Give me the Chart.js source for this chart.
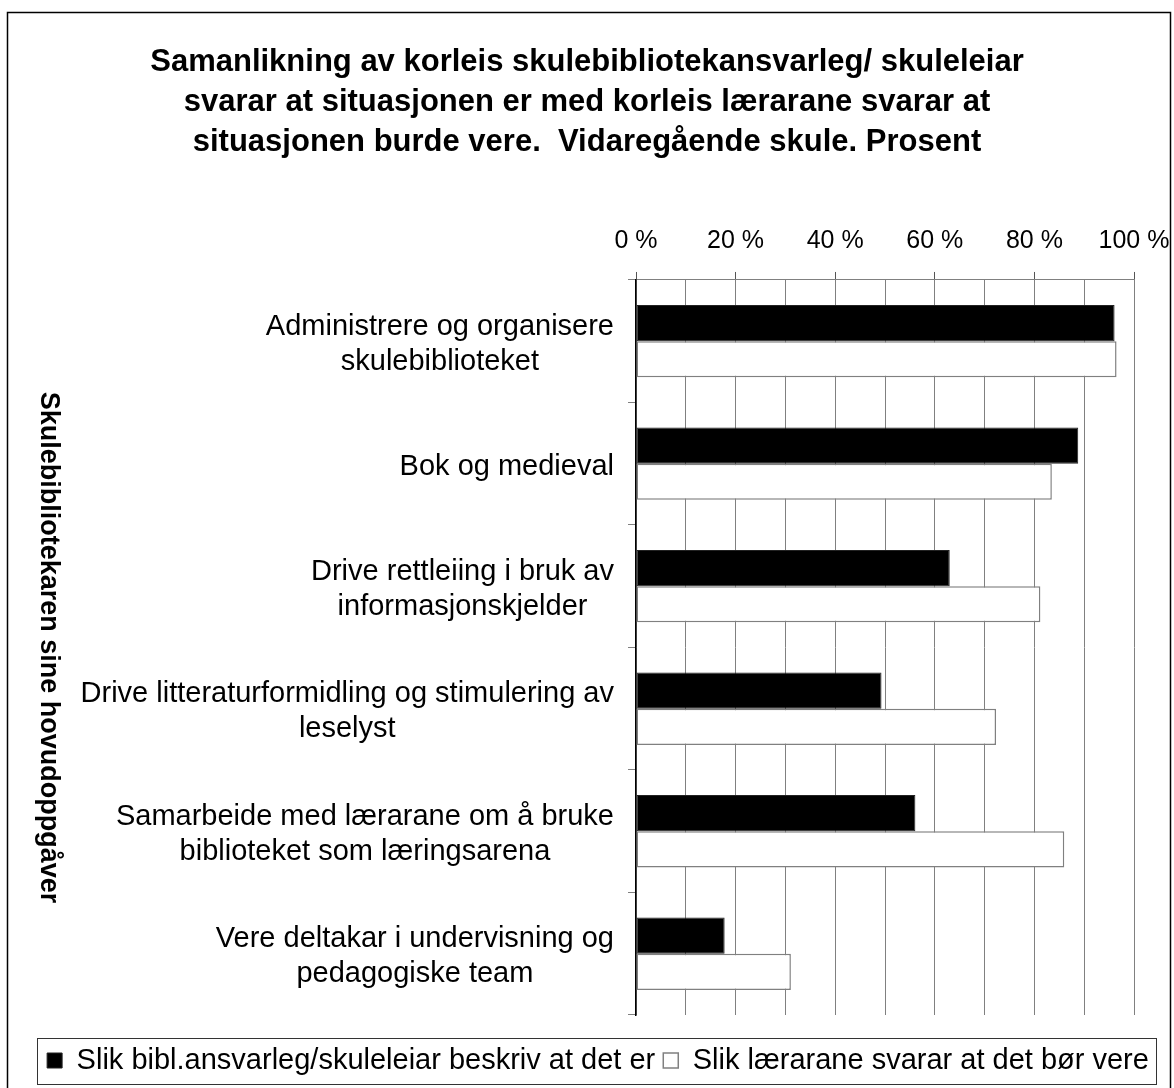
<!DOCTYPE html>
<html>
<head>
<meta charset="utf-8">
<script src="https://cdn.jsdelivr.net/npm/chart.js@4/dist/chart.umd.min.js"></script>
<style>
  html, body { margin: 0; padding: 0; background: #fff; }
  canvas { display: block; }
</style>
</head>
<body>
<canvas id="c" width="1174" height="1088"></canvas>
<script>
const titleLines = [
  "Samanlikning av korleis skulebibliotekansvarleg/ skuleleiar",
  "svarar at situasjonen er med korleis lærarane svarar at",
  "situasjonen burde vere.  Vidaregående skule. Prosent"
];
const yAxisTitle = "Skulebibliotekaren sine hovudoppgåver";
const categories = [
  ["Administrere og organisere", "skulebiblioteket"],
  ["Bok og medieval"],
  ["Drive rettleiing i bruk av", "informasjonskjelder"],
  ["Drive litteraturformidling og stimulering av", "leselyst"],
  ["Samarbeide med lærarane om å bruke", "biblioteket som læringsarena"],
  ["Vere deltakar i undervisning og", "pedagogiske team"]
];
const seriesNames = [
  "Slik bibl.ansvarleg/skuleleiar beskriv at det er",
  "Slik lærarane svarar at det bør vere"
];
const seriesIs = [96.1, 88.8, 63.0, 49.3, 56.1, 17.8];
const seriesShould = [96.5, 83.5, 81.2, 72.3, 86.0, 31.1];
const xTickLabelValues = [0, 20, 40, 60, 80, 100];

const FONT = "'Liberation Sans', Arial, sans-serif";
const LEGEND_SHIFT = 11;

const decorPlugin = {
  id: 'decor',
  afterLayout(chart) {
    const lg = chart.legend;
    if (lg) { lg.left += LEGEND_SHIFT; lg.right += LEGEND_SHIFT; }
  },
  afterDraw(chart) {
    const ctx = chart.ctx;
    const ca = chart.chartArea;
    ctx.save();
    // outer frame
    ctx.strokeStyle = '#000';
    ctx.lineWidth = 1.5;
    ctx.strokeRect(7.5, 12.5, 1163, 1100);
    // category labels: each block right-aligned to the axis, lines centred within the block
    const ys = chart.scales.y;
    ctx.fillStyle = '#000';
    ctx.font = "29px " + FONT;
    ctx.textAlign = 'center';
    ctx.textBaseline = 'middle';
    const lineH = 35;
    const rightEdge = ca.left - 22;
    categories.forEach((lines, i) => {
      const cy = ys.getPixelForValue(i) + 3;
      const w = Math.max(...lines.map(t => ctx.measureText(t).width));
      const cx = rightEdge - w / 2;
      const y0 = cy - (lines.length - 1) * lineH / 2;
      lines.forEach((t, k) => ctx.fillText(t, cx, y0 + k * lineH));
    });
    // y axis title (rotated clockwise)
    ctx.translate(48, (ca.top + ca.bottom) / 2);
    ctx.rotate(Math.PI / 2);
    ctx.font = "bold 27px " + FONT;
    ctx.fillText(yAxisTitle, 0, 0);
    ctx.restore();
    // legend frame
    const lg = chart.legend;
    if (lg && lg.legendHitBoxes && lg.legendHitBoxes.length) {
      const hb = lg.legendHitBoxes;
      const first = hb[0], last = hb[hb.length - 1];
      const cy = first.top + first.height / 2;
      ctx.save();
      ctx.strokeStyle = '#333';
      ctx.lineWidth = 1;
      const l = Math.round(first.left - 10) + 0.5;
      const r = Math.round(last.left + last.width + 7) + 0.5;
      ctx.strokeRect(l, Math.round(cy - 23) + 0.5, r - l, 46);
      ctx.restore();
    }
  }
};

new Chart(document.getElementById('c'), {
  type: 'bar',
  data: {
    labels: categories,
    datasets: [
      {
        label: seriesNames[0],
        data: seriesIs,
        xAxisID: 'x',
        yAxisID: 'y',
        backgroundColor: '#000',
        borderColor: '#222',
        borderWidth: 1,
        borderSkipped: false,
        categoryPercentage: 0.59,
        barPercentage: 1.0
      },
      {
        label: seriesNames[1],
        data: seriesShould,
        xAxisID: 'x',
        yAxisID: 'y',
        backgroundColor: '#fff',
        borderColor: '#808080',
        borderWidth: 1.5,
        borderSkipped: false,
        categoryPercentage: 0.59,
        barPercentage: 1.0
      }
    ]
  },
  options: {
    indexAxis: 'y',
    responsive: false,
    animation: false,
    devicePixelRatio: 1,
    layout: { padding: { top: 0, left: 20, right: 20, bottom: 3 } },
    scales: {
      x: {
        type: 'linear',
        position: 'top',
        min: 0,
        max: 100,
        afterFit(s) { s.height = 118; s.paddingLeft = 0; s.paddingRight = 0; },
        ticks: {
          stepSize: 10,
          autoSkip: false,
          maxRotation: 0,
          padding: 16,
          color: '#000',
          font: { family: FONT, size: 25 },
          callback: (v) => xTickLabelValues.includes(v) ? v + ' %' : ''
        },
        grid: {
          color: '#808080',
          lineWidth: 1,
          tickLength: 8,
          tickColor: (c) => (c.tick && xTickLabelValues.includes(c.tick.value)) ? '#555' : 'rgba(0,0,0,0)'
        },
        border: { display: true, color: '#808080', width: 1 }
      },
      y: {
        type: 'category',
        position: 'left',
        afterFit(s) { s.width = 616; },
        ticks: { display: false },
        grid: {
          offset: true,
          drawOnChartArea: true,
          drawTicks: true,
          color: (c) => c.index === categories.length ? '#c0c0c0' : 'rgba(0,0,0,0)',
          tickColor: '#808080',
          tickLength: 8
        },
        border: { display: true, color: '#000', width: 1.5 }
      },
      xb: {
        type: 'linear',
        position: 'bottom',
        afterFit(s) { s.height = 23; s.paddingLeft = 0; s.paddingRight = 0; },
        ticks: { display: false },
        grid: { display: false },
        border: { display: false }
      },
      yr: {
        type: 'linear',
        position: 'right',
        afterFit(s) { s.width = 20; s.paddingTop = 0; s.paddingBottom = 0; },
        ticks: { display: false },
        grid: { display: false },
        border: { display: false }
      }
    },
    plugins: {
      title: {
        display: true,
        text: titleLines,
        color: '#000',
        font: { family: FONT, size: 31, weight: 'bold', lineHeight: 1.29 },
        padding: { top: 42, bottom: 0 }
      },
      legend: {
        display: true,
        position: 'bottom',
        align: 'center',
        labels: {
          color: '#000',
          boxWidth: 15,
          boxHeight: 15,
          padding: 8,
          font: { family: FONT, size: 29 }
        }
      },
      tooltip: { enabled: false }
    }
  },
  plugins: [decorPlugin]
});
</script>
</body>
</html>
